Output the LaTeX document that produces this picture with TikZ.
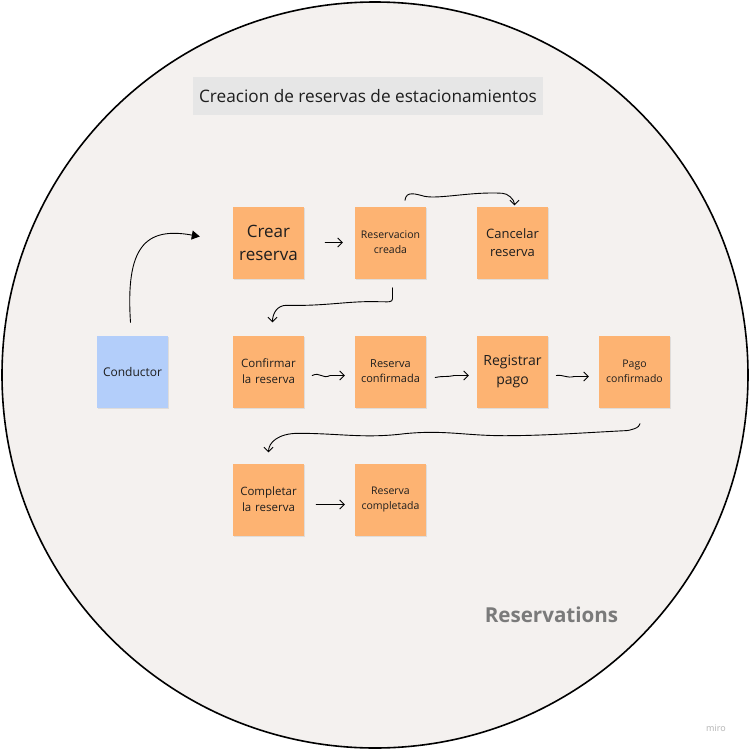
\documentclass[tikz,border=0pt]{standalone}
\usepackage{fontspec}
\setmainfont{Open Sans}
\usetikzlibrary{arrows.meta,calc,shadows}
\definecolor{bgc}{HTML}{F4F1EF}
\definecolor{sticky}{HTML}{FDB372}
\definecolor{bluesticky}{HTML}{B3CEFA}
\definecolor{titlegray}{HTML}{E6E6E6}
\definecolor{inkc}{HTML}{1E1E1E}
\begin{document}
\begin{tikzpicture}[x=1pt,y=-1pt,
  note/.style={rectangle, minimum width=71pt, minimum height=72pt, inner sep=1pt,
    text width=68pt, align=center, fill=sticky, text=inkc,
    drop shadow={shadow xshift=0.5pt, shadow yshift=-1.5pt, opacity=0.18}},
  hand/.style={black, line width=0.9pt, line cap=round, line join=round},
  barb/.style={-{Straight Barb[length=4.5pt,width=9pt]}}
]
\useasboundingbox (0,0) rectangle (751,753);
\fill[white] (0,0) rectangle (751,753);
\draw[fill=bgc, line width=1.6pt] (375,375) circle [radius=373pt];

\node[fill=titlegray, minimum width=350pt, minimum height=38pt, inner sep=0pt,
  text=inkc, font=\fontsize{17.2}{20}\selectfont] (title) at (368,96)
  {Creacion de reservas de estacionamientos};

\node[note, font=\fontsize{17}{23}\selectfont] (crear) at (268.5,242.5) {Crear\\reserva};
\node[note, font=\fontsize{10.5}{15}\selectfont] (resv) at (390.5,242.5) {Reservacion\\creada};
\node[note, font=\fontsize{13}{18}\selectfont] (cancel) at (512.5,242.5) {Cancelar\\reserva};

\node[note, fill=bluesticky, font=\fontsize{12}{14}\selectfont] (cond) at (132.5,371.5) {Conductor};
\node[note, font=\fontsize{11.5}{16}\selectfont] (conf) at (268.5,371.5) {Confirmar\\la reserva};
\node[note, font=\fontsize{11}{15}\selectfont] (rcf) at (390.5,371.5) {Reserva\\confirmada};
\node[note, font=\fontsize{14}{18.5}\selectfont] (reg) at (512.5,371.5) {Registrar\\pago};
\node[note, font=\fontsize{10.5}{14.5}\selectfont] (pago) at (634.5,371.5) {Pago\\confirmado};

\node[note, font=\fontsize{11.5}{16}\selectfont] (comp) at (268.5,499.5) {Completar\\la reserva};
\node[note, font=\fontsize{10.5}{15}\selectfont] (rcomp) at (390.5,499.5) {Reserva\\completada};

\node[text=black!52, font=\bfseries\fontsize{20.6}{24}\selectfont] (lbl) at (551.5,615) {Reservations};
\node[text=black!30, font=\fontsize{9}{10}\selectfont] (miro) at (716,728) {miro};

% connectors
\draw[hand, -{Triangle[length=8pt,width=9pt]}]
  ($(cond.north)+(-2,-13)$) .. controls +(-5,-75) and +(-55,-10) .. ($(crear.west)+(-33,-6)$);
\draw[hand, barb] ($(crear.east)+(21,0)$) -- ($(resv.west)+(-12,0)$);
\draw[hand, barb]
  ($(resv.north)+(14.5,-6)$) .. controls +(1,-10) and +(-8,-2) .. ($(resv.north)+(34,-10)$)
  .. controls +(15,3) and +(-30,-2) .. ($(cancel.north)+(-10,-13)$)
  .. controls +(5,0) and +(0,-6) .. ($(cancel.north)+(2,-1)$);
\draw[hand, barb]
  ($(resv.south)+(2,9)$) -- ($(resv.south)+(2,20)$)
  .. controls +(0,4) and +(10,0) .. ($(resv.south)+(-12,23)$)
  .. controls +(-30,-1) and +(40,1) .. ($(conf.north)+(18,-30)$)
  .. controls +(-10,0) and +(0,-8) .. ($(conf.north)+(4,-13)$);
\draw[hand, barb] ($(conf.east)+(8,4)$) .. controls +(8,-4) and +(-8,4) .. ($(conf.east)+(26,4)$) -- ($(rcf.west)+(-10,4)$);
\draw[hand, barb] ($(rcf.east)+(9,6)$) .. controls +(10,-2) and +(-10,2) .. ($(rcf.east)+(28,4)$) -- ($(reg.west)+(-8,4)$);
\draw[hand, barb] ($(reg.east)+(8,4)$) .. controls +(8,-1) and +(-8,2) .. ($(reg.east)+(26,5)$) -- ($(pago.west)+(-10,5)$);
\draw[hand, barb]
  ($(pago.south)+(5.5,16)$) .. controls +(0,4) and +(6,0) .. ($(pago.south)+(-10,23)$)
  .. controls +(-40,2) and +(40,0) .. ($(pago.south)+(-130,28)$)
  .. controls +(-40,0) and +(40,-4) .. ($(pago.south)+(-230,26)$)
  .. controls +(-40,5) and +(40,0) .. ($(comp.north)+(30,-30)$)
  .. controls +(-20,0) and +(0,-10) .. ($(comp.north)+(0,-11)$);
\draw[hand, barb] ($(comp.east)+(12,5)$) -- ($(rcomp.west)+(-10,5)$);
\end{tikzpicture}
\end{document}
